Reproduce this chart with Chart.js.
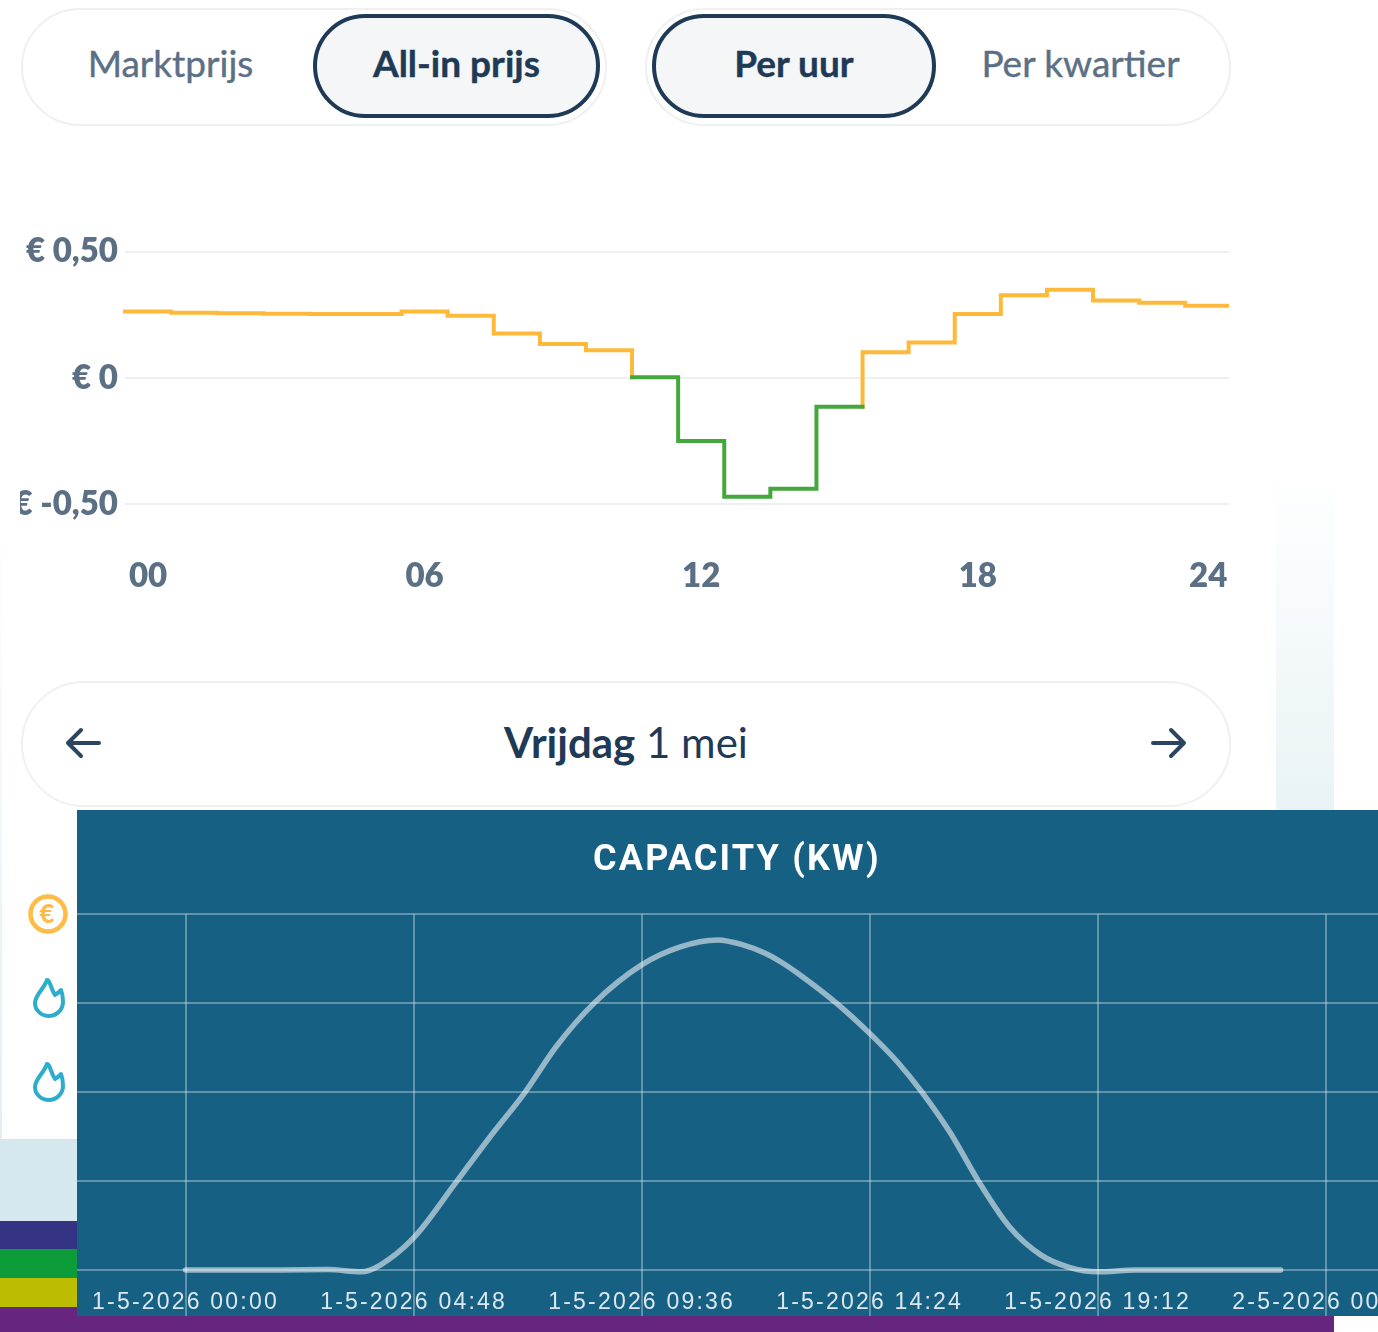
<!DOCTYPE html>
<html>
<head>
<meta charset="utf-8">
<title>Prijs en capaciteit</title>
<script src="https://cdn.jsdelivr.net/npm/chart.js@4"></script>
<style>
  html, body { margin: 0; padding: 0; background: #fff; }
  body { position: relative; width: 1378px; height: 1332px; overflow: hidden; font-family: Lato, sans-serif; color: #1f3a56; }
  .abs { position: absolute; box-sizing: border-box; }
  .pill { border: 2px solid #eef0f2; background: #fff; }
  .tab { display: flex; align-items: center; justify-content: center; font-size: 37px; color: #5c7085; border-radius: 60px; padding-bottom: 7px; -webkit-text-stroke: 0.4px; }
  .tab.on { border: 4px solid #1f3a56; background: #f4f6f8; color: #1f3a56; font-weight: 700; }
  #priceChart, #capacityChart { position: absolute; display: block; }
</style>
</head>
<body>
<!-- achtergrondvlakken -->
<div class="abs" style="left:1276px;top:470px;width:58px;height:340px;background:linear-gradient(#fff,#e9f3f6)"></div>
<div class="abs" style="left:0;top:520px;width:2px;height:620px;background:linear-gradient(#fff,#e4eff4)"></div>
<div class="abs" style="left:0;top:1139px;width:77px;height:82px;background:#d5e7ef"></div>
<div class="abs" style="left:0;top:1221px;width:77px;height:28px;background:#353384"></div>
<div class="abs" style="left:0;top:1249px;width:77px;height:29px;background:#0d9c3a"></div>
<div class="abs" style="left:0;top:1278px;width:77px;height:29px;background:#bdbd00"></div>
<div class="abs" style="left:0;top:1307px;width:1334px;height:25px;background:#66267f"></div>

<!-- knoppen -->
<div class="abs pill" style="left:21px;top:8px;width:586px;height:118px;border-radius:59px"></div>
<div class="abs pill" style="left:645px;top:8px;width:586px;height:118px;border-radius:59px"></div>
<div class="abs tab" style="left:27px;top:14px;width:287px;height:104px">Marktprijs</div>
<div class="abs tab on" style="left:313px;top:14px;width:287px;height:104px">All-in prijs</div>
<div class="abs tab on" style="left:652px;top:14px;width:284px;height:104px">Per uur</div>
<div class="abs tab" style="left:937px;top:14px;width:287px;height:104px">Per kwartier</div>

<canvas id="priceChart" width="1211" height="375" style="left:20px;top:225px;width:1211px;height:375px"></canvas>

<!-- datum -->
<div class="abs pill" style="left:21px;top:681px;width:1210px;height:126px;border-radius:63px"></div>
<div class="abs" style="left:21px;top:679px;width:1210px;height:126px;display:flex;align-items:center;justify-content:center;font-size:42px"><span><b>Vrijdag</b> 1 mei</span></div>
<svg class="abs" style="left:64px;top:725px" width="40" height="36" fill="none" stroke="#2c4660" stroke-width="4" stroke-linecap="round" stroke-linejoin="round"><path d="M35 18H4M17 5L4 18L17 31"/></svg>
<svg class="abs" style="left:1148px;top:725px" width="40" height="36" fill="none" stroke="#2c4660" stroke-width="4" stroke-linecap="round" stroke-linejoin="round"><path d="M5 18H36M23 5L36 18L23 31"/></svg>

<!-- iconen -->
<svg class="abs" style="left:26px;top:892px" width="44" height="44" fill="none" stroke="#fcbc45" stroke-width="4.5"><circle cx="22" cy="22" r="17.5"/><text x="21" y="31" text-anchor="middle" font-family="Lato" font-weight="900" font-size="26" fill="#fcbc45" stroke="none">€</text></svg>
<svg class="abs" style="left:30px;top:975px" width="38" height="46" fill="none" stroke="#2eaccb" stroke-width="4" stroke-linejoin="round"><path d="M17 5C20 5 20 12 25 20C27 19 29 17 31 15C33 20 33 24 33 27C33 35 26 41 19 41C11 41 5 35 5 28C5 20 14 14 17 5Z"/></svg>
<svg class="abs" style="left:30px;top:1059px" width="38" height="46" fill="none" stroke="#2eaccb" stroke-width="4" stroke-linejoin="round"><path d="M17 5C20 5 20 12 25 20C27 19 29 17 31 15C33 20 33 24 33 27C33 35 26 41 19 41C11 41 5 35 5 28C5 20 14 14 17 5Z"/></svg>

<canvas id="capacityChart" width="1320" height="506" style="left:77px;top:810px;width:1320px;height:506px;background:#166083"></canvas>

<script>
// All-in prijs per uur (euro), uur 0 t/m 23
const priceHours = [0, 1, 2, 3, 4, 5, 6, 7, 8, 9, 10, 11, 12, 13, 14, 15, 16, 17, 18, 19, 20, 21, 22, 23];
const allInPrice = [0.263, 0.258, 0.256, 0.254, 0.253, 0.253, 0.263, 0.246, 0.176, 0.134, 0.11, 0.003,
  -0.25, -0.471, -0.44, -0.114, 0.102, 0.14, 0.253, 0.328, 0.35, 0.307, 0.298, 0.286];
const priceTicks = [0.5, 0, -0.5];
const priceTickLabels = ['€ 0,50', '€ 0', '€ -0,50'];
const hourTicks = [0.5, 6.5, 12.5, 18.5, 23.5];
const hourTickLabels = ['00', '06', '12', '18', '24'];

const capacityHours = [0, 1, 2, 3, 3.7, 4.1, 4.8, 5.7, 6.4, 7.15, 7.8, 8.6, 9.6, 10.4, 11.2, 11.7, 12.2, 12.6, 12.9, 13.7,
  14.4, 15, 15.5, 16.1, 16.7, 17.35, 18, 18.6, 19.2, 20, 21, 22, 23.05];
const capacityKw = [0, 0, 0, 0.005, -0.02, 0.056, 0.36, 0.99, 1.49, 2, 2.51, 3, 3.43, 3.63, 3.71, 3.66, 3.56, 3.44, 3.33, 3,
  2.66, 2.33, 2, 1.54, 0.99, 0.48, 0.17, 0.03, -0.02, 0, 0, 0, 0];
const capacityTimeTicks = [0, 4.8, 9.6, 14.4, 19.2, 24];
const capacityTimeLabels = ['1-5-2026 00:00', '1-5-2026 04:48', '1-5-2026 09:36', '1-5-2026 14:24', '1-5-2026 19:12', '2-5-2026 00:00'];

const orange = '#fdb93a';
const green = '#43a83c';

// oranje waar de prijs positief is, groen waar hij nul of negatief is
function priceSegments() {
  const first = allInPrice.findIndex(v => v <= 0.01);
  let last = first;
  while (allInPrice[last + 1] <= 0.01) last++;
  const pts = h => ({ x: priceHours[h], y: allInPrice[h] });
  const end = priceHours[priceHours.length - 1] + 1;
  const orangeData = [];
  for (let h = 0; h <= first; h++) orangeData.push(pts(h));
  orangeData.push({ x: priceHours[first], y: null });
  orangeData.push({ x: priceHours[last] + 1, y: allInPrice[last] });
  for (let h = last + 1; h < allInPrice.length; h++) orangeData.push(pts(h));
  orangeData.push({ x: end, y: allInPrice[allInPrice.length - 1] });
  const greenData = [];
  for (let h = first; h <= last; h++) greenData.push(pts(h));
  greenData.push({ x: priceHours[last] + 1, y: allInPrice[last] });
  return { orangeData, greenData };
}
const seg = priceSegments();
const priceClip = { left: 3, right: 0, top: 5, bottom: 5 };

new Chart(document.getElementById('priceChart'), {
  type: 'line',
  data: {
    datasets: [
      { data: seg.greenData, borderColor: green, borderWidth: 4, stepped: true, pointRadius: 0, clip: priceClip, borderCapStyle: 'square' },
      { data: seg.orangeData, borderColor: orange, borderWidth: 4, stepped: true, pointRadius: 0, clip: priceClip, borderCapStyle: 'square' }
    ]
  },
  options: {
    responsive: false,
    animation: false,
    layout: { padding: { top: 25, right: 2 } },
    plugins: { legend: { display: false }, tooltip: { enabled: false } },
    scales: {
      x: {
        type: 'linear',
        min: 0,
        max: 23.95,
        afterBuildTicks: s => { s.ticks = hourTicks.map(v => ({ value: v })); },
        afterFit: s => { s.height = 96; s.paddingLeft = 0; s.paddingRight = 0; },
        grid: { display: false },
        border: { display: false },
        ticks: {
          autoSkip: false, maxRotation: 0, padding: 45,
          color: '#5c7085', font: { family: 'Lato', weight: '800', size: 33 },
          callback: v => hourTickLabels[hourTicks.indexOf(v)]
        }
      },
      y: {
        min: -0.5,
        max: 0.5,
        afterBuildTicks: s => { s.ticks = priceTicks.map(v => ({ value: v })); },
        afterFit: s => { s.width = 105; },
        grid: { color: '#edf0f2', lineWidth: 2, drawTicks: false },
        border: { display: false },
        ticks: {
          padding: 7,
          color: '#5c7085', font: { family: 'Lato', weight: '800', size: 33 },
          callback: v => priceTickLabels[priceTicks.indexOf(v)]
        }
      }
    }
  }
});

new Chart(document.getElementById('capacityChart'), {
  type: 'line',
  data: {
    datasets: [{
      data: capacityHours.map((h, i) => ({ x: h, y: capacityKw[i] })),
      borderColor: 'rgba(255,255,255,0.55)',
      borderWidth: 5.5,
      borderCapStyle: 'round',
      cubicInterpolationMode: 'monotone',
      pointRadius: 0,
      clip: false
    }]
  },
  options: {
    responsive: false,
    animation: false,
    layout: { padding: 0 },
    plugins: {
      legend: { display: false },
      tooltip: { enabled: false },
      title: {
        display: true,
        text: 'CAPACITY (KW)',
        color: '#fff',
        font: { family: 'Roboto', weight: '700', size: 36 },
        padding: { top: 29, bottom: 32 }
      }
    },
    scales: {
      x: {
        type: 'linear',
        min: -2.284,
        max: 25.5,
        afterBuildTicks: s => { s.ticks = capacityTimeTicks.map(v => ({ value: v })); },
        afterFit: s => { s.height = 46; s.paddingLeft = 0; s.paddingRight = 0; },
        grid: { color: 'rgba(255,255,255,0.32)', lineWidth: 2, tickLength: 46 },
        border: { display: false },
        ticks: {
          autoSkip: false, maxRotation: 0, padding: -27,
          color: 'rgba(255,255,255,0.85)', font: { family: 'Liberation Sans', size: 23 },
          callback: v => capacityTimeLabels[capacityTimeTicks.indexOf(v)]
        }
      },
      y: {
        min: 0,
        max: 4,
        afterBuildTicks: s => { s.ticks = [0, 1, 2, 3, 4].map(v => ({ value: v })); },
        afterFit: s => { s.width = 0; },
        grid: { color: 'rgba(255,255,255,0.32)', lineWidth: 2, drawTicks: false },
        border: { display: false },
        ticks: { display: false }
      }
    }
  },
  plugins: [{
    id: 'spacing',
    beforeDraw: c => { c.ctx.letterSpacing = '2.2px'; }
  }]
});
</script>
</body>
</html>
